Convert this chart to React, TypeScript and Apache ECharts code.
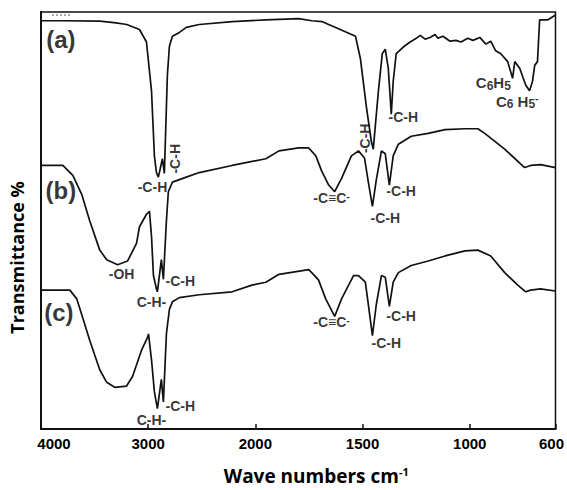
import React, { useEffect, useRef } from "react";
import * as echarts from "echarts";

// Tick marks on the wavenumber axis (cm-1)
const tickWavenumbers = [4000, 3000, 2000, 1500, 1000, 600];

// Spectrum (a): [wavenumber, transmittance %]
const curveA: [number, number][] = [
  [4000, 97.9], [3800, 97.9], [3450, 97.8], [3300, 97.4], [3200, 97.0], [3081, 95.8],
  [3016, 92.8], [2969, 81.1], [2942, 65.5], [2923, 61.5], [2905, 60.4], [2885, 62.7],
  [2867, 64.8], [2849, 61.3], [2830, 77.2], [2821, 84.8], [2802, 91.8], [2774, 94.2],
  [2709, 95.1], [2644, 96.3], [2524, 97.0], [2217, 97.7], [1951, 98.1], [1798, 98.4],
  [1737, 97.9], [1690, 97.7], [1658, 97.0], [1612, 96.0], [1533, 94.2], [1510, 88.8],
  [1482, 77.2], [1459, 69.0], [1450, 67.1], [1426, 81.1], [1408, 90.0], [1394, 91.1],
  [1380, 86.5], [1366, 75.5], [1357, 83.4], [1343, 90.0], [1310, 91.6], [1278, 92.8],
  [1255, 93.5], [1231, 94.4], [1208, 93.5], [1185, 93.9], [1162, 94.6], [1148, 93.7],
  [1125, 94.2], [1092, 93.0], [1064, 93.2], [1041, 92.8], [1009, 93.7], [985, 93.2],
  [953, 93.9], [925, 92.3], [902, 93.0], [879, 90.7], [855, 90.0], [823, 88.1],
  [800, 84.1], [790, 88.1], [767, 86.5], [739, 82.5], [721, 81.1], [707, 83.4],
  [697, 87.2], [684, 88.1], [674, 98.1], [637, 98.1], [600, 99.3],
];

// Spectrum (b)
const curveB: [number, number][] = [
  [4000, 63.2], [3796, 63.2], [3703, 60.8], [3619, 56.2], [3545, 49.9], [3452, 42.9],
  [3387, 40.6], [3285, 39.4], [3192, 40.3], [3109, 44.5], [3081, 48.5], [3016, 51.5],
  [2988, 52.2], [2969, 46.2], [2951, 36.8], [2923, 33.6], [2914, 32.9], [2877, 40.6],
  [2858, 35.9], [2830, 49.9], [2812, 56.9], [2774, 59.2], [2644, 60.4], [2524, 61.5],
  [2217, 63.2], [1951, 64.8], [1890, 66.7], [1798, 67.4], [1751, 67.4], [1718, 65.5],
  [1691, 61.9], [1658, 58.5], [1630, 56.9], [1598, 60.1], [1552, 65.5], [1519, 66.7],
  [1491, 65.0], [1473, 59.2], [1454, 53.4], [1436, 59.7], [1412, 66.7], [1394, 66.0],
  [1375, 58.5], [1357, 65.5], [1333, 68.3], [1273, 70.2], [1194, 70.9], [1115, 71.8],
  [1022, 72.0], [962, 72.0], [930, 70.9], [837, 67.1], [744, 62.7], [716, 63.2],
  [670, 63.4], [600, 62.7],
];

// Spectrum (c)
const curveC: [number, number][] = [
  [4000, 33.3], [3731, 33.3], [3666, 31.2], [3610, 26.6], [3545, 21.2], [3452, 14.2],
  [3387, 11.2], [3313, 10.0], [3202, 10.3], [3146, 12.6], [3062, 18.9], [3007, 21.9],
  [2997, 22.8], [2969, 16.6], [2942, 8.9], [2914, 4.9], [2877, 11.9], [2858, 6.5],
  [2830, 22.8], [2802, 28.7], [2774, 30.5], [2709, 31.5], [2524, 32.2], [2217, 32.9],
  [2032, 34.5], [1951, 35.2], [1890, 37.1], [1751, 38.2], [1737, 37.5], [1705, 35.7],
  [1672, 31.2], [1630, 27.0], [1598, 31.2], [1542, 36.8], [1519, 36.8], [1487, 35.2],
  [1473, 29.8], [1454, 22.4], [1436, 29.8], [1412, 36.8], [1394, 36.4], [1375, 29.4],
  [1357, 35.2], [1333, 37.5], [1273, 39.2], [1194, 40.3], [1115, 41.5], [1022, 42.7],
  [962, 42.9], [902, 41.5], [837, 37.5], [776, 34.5], [739, 32.9], [716, 33.3],
  [670, 33.6], [600, 33.1],
];

// Curve names, anchored at [wavenumber, transmittance]
const curveNames = ["(a)", "(b)", "(c)"];
const curveNameAnchors: [number, number][] = [[3814, 93.5], [3814, 57.1], [3833, 28.0]];

// Peak annotations: [text, wavenumber, transmittance, rotation]
const peakLabels: [string, number, number, number][] = [
  ["{n|-C-H}", 2960, 58.0, 0],
  ["{n|-C-H}", 2747, 64.8, 90],
  ["{n|-OH}", 3248, 37.1, 0],
  ["{n|-C-H}", 2700, 35.4, 0],
  ["{n|C-H-}", 2969, 30.5, 0],
  ["{n|-C-H}", 2700, 5.4, 0],
  ["{n|C-H-}", 2969, 2.1, 0],
  ["{n|-C-H}", 1487, 69.7, 90],
  ["{n|-C-H}", 1310, 74.8, 0],
  ["{c|C}{s|6}{c|H}{s|5}", 890, 83.0, 0],
  ["{c|C}{s|6}{c| H}{s|5}{p|-}", 778, 78.6, 0],
  ["{n|-C≡C}{p|-}", 1644, 55.5, 0],
  ["{n|-C-H}", 1394, 50.6, 0],
  ["{n|-C-H}", 1320, 57.1, 0],
  ["{n|-C≡C}{p|-}", 1644, 25.6, 0],
  ["{n|-C-H}", 1389, 20.7, 0],
  ["{n|-C-H}", 1320, 27.0, 0],
];

// Axis break: above 2000 cm-1 the scale is compressed by a factor 2
const SPLIT = 2000;
const toAxis = (w: number) => (w > SPLIT ? SPLIT + (w - SPLIT) / 2 : w);
const fromAxis = (u: number) => (u > SPLIT ? SPLIT + (u - SPLIT) * 2 : u);

const FONT = "'Liberation Sans', Arial, sans-serif";
const TITLE_FONT = "'Open Sans', 'DejaVu Sans', sans-serif";
const INK = "#000";

export default function App() {
  const ref = useRef<HTMLDivElement>(null);

  useEffect(() => {
    if (!ref.current) return;
    const chart = echarts.init(ref.current, undefined, { renderer: "svg" });

    const lineSeries = [curveA, curveB, curveC].map((c, i) => ({
      type: "line",
      name: curveNames[i],
      data: c.map(([w, t]) => [toAxis(w), t]),
      showSymbol: false,
      symbol: "none",
      lineStyle: { color: "#111", width: 1.7 },
      silent: true,
    }));

    const labelRich = {
      n: { fontFamily: FONT, fontWeight: "bold", fontSize: 14, color: INK, lineHeight: 15 },
      c: { fontFamily: FONT, fontWeight: "bold", fontSize: 15, color: INK, lineHeight: 18 },
      s: {
        fontFamily: FONT,
        fontWeight: "bold",
        fontSize: 12,
        color: INK,
        verticalAlign: "bottom",
        lineHeight: 10,
      },
      p: {
        fontFamily: FONT,
        fontWeight: "bold",
        fontSize: 11,
        color: INK,
        verticalAlign: "top",
        lineHeight: 10,
      },
    };

    const annotationSeries = {
      type: "scatter",
      symbolSize: 0,
      silent: true,
      data: [
        ...curveNames.map((name, i) => ({
          value: [toAxis(curveNameAnchors[i][0]), curveNameAnchors[i][1]],
          label: {
            show: true,
            position: "inside",
            formatter: name,
            fontFamily: FONT,
            fontWeight: "bold",
            fontSize: 24,
            color: INK,
          },
        })),
        ...peakLabels.map(([text, w, t, rot]) => ({
          value: [toAxis(w), t],
          label: {
            show: true,
            position: "inside",
            formatter: text,
            rotate: rot,
            rich: labelRich,
          },
        })),
      ],
    };

    const tickAxisValues = tickWavenumbers.map(toAxis);
    const tickStyle = { fontFamily: FONT, fontWeight: "bold", fontSize: 15, color: INK };

    chart.setOption({
      animation: false,
      backgroundColor: "#fff",
      grid: {
        left: 41,
        right: 9,
        top: 12,
        bottom: 49,
        show: true,
        borderColor: "#111",
        borderWidth: 1.5,
      },
      xAxis: {
        type: "value",
        min: toAxis(600),
        max: toAxis(4000),
        inverse: true,
        name: "{b|Wave numbers cm}{sup|-1}",
        nameLocation: "middle",
        nameGap: 37,
        nameTextStyle: {
          padding: [0, 0, 0, 36],
          rich: {
            b: { fontFamily: TITLE_FONT, fontWeight: "bold", fontSize: 19, color: INK },
            sup: {
              fontFamily: TITLE_FONT,
              fontWeight: "bold",
              fontSize: 11,
              color: INK,
              verticalAlign: "top",
              lineHeight: 12,
            },
          },
        },
        axisLine: { show: true, lineStyle: { color: "#111", width: 2 } },
        axisTick: {
          show: true,
          inside: true,
          length: 5,
          customValues: tickAxisValues,
          lineStyle: { color: "#111", width: 1.5 },
        },
        axisLabel: {
          show: true,
          customValues: tickAxisValues,
          margin: 7,
          formatter: (v: number) => {
            const w = Math.round(fromAxis(v));
            if (w === 4000) return "{l|4000}";
            if (w === 600) return "{r|600}";
            return "{m|" + w + "}";
          },
          rich: {
            m: tickStyle,
            l: { ...tickStyle, padding: [0, 0, 0, 26] },
            r: { ...tickStyle, padding: [0, 8, 0, 0] },
          },
        },
        splitLine: { show: false },
      },
      yAxis: {
        type: "value",
        min: 0,
        max: 100,
        name: "Transmittance %",
        nameLocation: "middle",
        nameGap: 15,
        nameRotate: 90,
        nameTextStyle: {
          fontFamily: TITLE_FONT,
          fontWeight: "bold",
          fontSize: 18,
          color: INK,
          padding: [0, 74, 0, 0],
        },
        axisLine: { show: true, lineStyle: { color: "#111", width: 2 } },
        axisTick: { show: false },
        axisLabel: { show: false },
        splitLine: { show: false },
      },
      graphic: [
        {
          type: "line",
          shape: { x1: 52, y1: 15, x2: 72, y2: 15 },
          style: { stroke: "#555", lineWidth: 1, lineDash: [2, 2] },
          silent: true,
        },
      ],
      series: [...lineSeries, annotationSeries],
    });

    return () => chart.dispose();
  }, []);

  return (
    <div
      ref={ref}
      style={{ position: "fixed", left: 0, top: 0, width: 567, height: 490, background: "#fff" }}
    />
  );
}
